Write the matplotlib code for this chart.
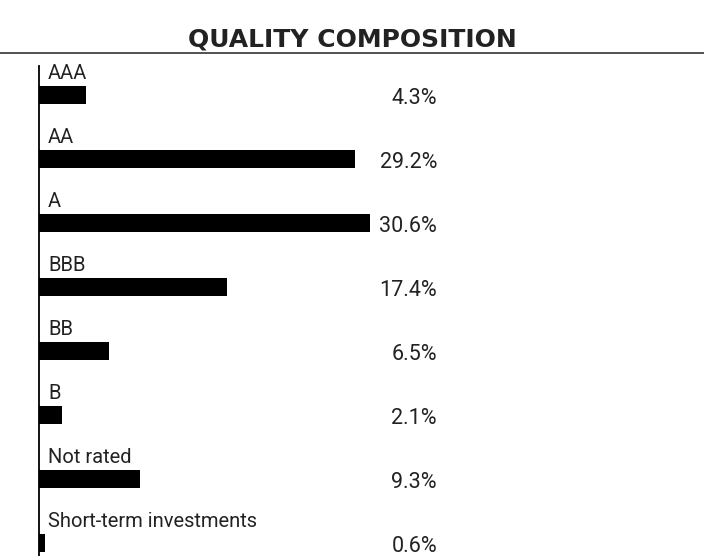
import matplotlib.pyplot as plt
from matplotlib.lines import Line2D

# ---- data ----
categories = ["AAA", "AA", "A", "BBB", "BB", "B", "Not rated", "Short-term investments"]
values = [4.3, 29.2, 30.6, 17.4, 6.5, 2.1, 9.3, 0.6]
value_labels = ["4.3%", "29.2%", "30.6%", "17.4%", "6.5%", "2.1%", "9.3%", "0.6%"]
title = "QUALITY COMPOSITION"

body_font = "Roboto"

W, H = 704, 556
fig = plt.figure(figsize=(W / 100, H / 100), dpi=100)

# axes in pixel geometry: left edge = baseline of bars
px_per_pct = 10.82
ax_left, ax_right = 39, 450
ax_top, ax_bot = 66, 556
ax = fig.add_axes([ax_left / W, 1 - ax_bot / H, (ax_right - ax_left) / W, (ax_bot - ax_top) / H])

row = 64.0
bar_h = 18 / row
y0 = 95
ypos = list(range(len(categories)))

ax.barh(ypos, values, height=bar_h, color="black", left=0)
ax.set_xlim(0, (ax_right - ax_left) / px_per_pct)
ax.set_ylim((ax_bot - y0) / row, (ax_top - y0) / row)

val_x = (437 - ax_left) / px_per_pct
for i, (cat, lab) in enumerate(zip(categories, value_labels)):
    ax.text(9 / px_per_pct, i - bar_h / 2 - 7 / row, cat, ha="left", va="baseline",
            fontsize=14.5, family=body_font, color="#222222")
    ax.text(val_x, i + bar_h / 2, lab, ha="right", va="baseline",
            fontsize=15.5, family=body_font, color="#222222")

for s in ["top", "right", "bottom"]:
    ax.spines[s].set_visible(False)
ax.spines["left"].set_linewidth(1.3)
ax.set_xticks([])
ax.set_yticks([])

fig.text(0.5, 1 - 46 / H, title, ha="center", va="baseline", fontsize=18,
         fontweight="bold", family="DejaVu Sans", color="#222222")
fig.add_artist(Line2D([0, 1], [1 - 53 / H, 1 - 53 / H], color="#333333", lw=1.2,
                      transform=fig.transFigure))

fig.savefig("out.png", dpi=100)
